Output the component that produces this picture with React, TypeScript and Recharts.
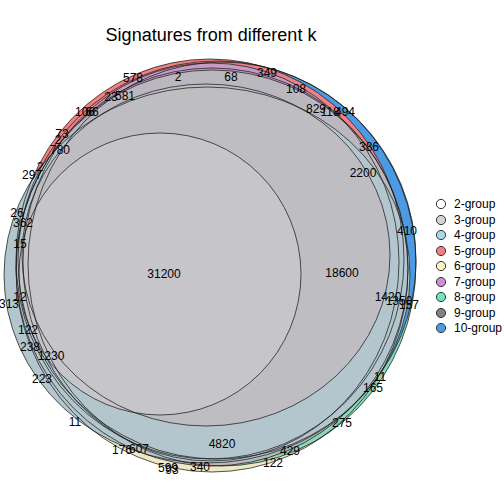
import { ScatterChart, Scatter, XAxis, YAxis } from 'recharts';

const W = 504;
const H = 504;

// sets, in legend order
const groups = ['2-group', '3-group', '4-group', '5-group', '6-group', '7-group', '8-group', '9-group', '10-group'];
const legendColors = ['#ffffff', '#d4d4d4', '#a9d8e6', '#f08080', '#fff6c8', '#cc8fd2', '#6fe6c0', '#808080', '#4a9be6'];

// fitted ellipses (chart units)
const centerX = [160, 206, 207, 210, 212, 211, 222, 212, 217];
const centerY = [274, 255, 275, 259, 270, 262, 264, 268, 260];
const radiusX = [141, 184, 203, 194, 196, 188, 194, 196, 199];
const radiusY = [141, 171, 188, 200, 202, 199, 202, 198, 199];

// colour of the region each shape shows when painted in drawOrder
const regionFill: Record<string, string> = {
  '6-group': '#eee8c4',
  '8-group': '#86d8b8',
  '10-group': '#4c9ae3',
  '5-group': '#ee8282',
  '7-group': '#c69bc5',
  '9-group': '#bab8be',
  '4-group': '#b3c6cd',
  '3-group': '#bebdc2',
  '2-group': '#c6c5c9',
};
const drawOrder = ['6-group', '8-group', '10-group', '5-group', '7-group', '9-group', '4-group', '3-group', '2-group'];

// region counts
const labelText = ['31200', '18600', '4820', '2200', '1420', '1350', '157', '410', '386', '829', '118', '494', '108', '349', '68', '2', '578', '23', '581', '106', '66', '73', '2', '780', '297', '2', '26', '362', '15', '12', '313', '122', '238', '1230', '223', '11', '176', '607', '599', '93', '340', '122', '429', '275', '165', '11'];
const labelX = [164, 342, 222, 363, 388, 399, 409, 407, 369, 316, 330, 345, 296, 267, 231, 178, 133, 111, 125, 85, 92, 62, 58, 60, 32, 40, 17, 23, 20, 20, 9, 28, 30, 51, 42, 75, 122, 139, 168, 172, 200, 273, 290, 342, 373, 380];
const labelY = [274, 273, 444, 173, 297, 301, 305, 231, 147, 109, 112, 112, 89, 73, 77, 77, 78, 97, 96, 112, 112, 134, 140, 150, 175, 167, 213, 223, 244, 297, 304, 330, 347, 356, 379, 422, 450, 449, 468, 470, 467, 463, 451, 423, 388, 377];

const X_DOMAIN: [number, number] = [0, 504];
const Y_DOMAIN: [number, number] = [0, 504];
const unit = W / (X_DOMAIN[1] - X_DOMAIN[0]);

const shapes = groups.map((name, i) => ({
  name,
  x: centerX[i],
  y: centerY[i],
  rx: radiusX[i],
  ry: radiusY[i],
}));
const fills = drawOrder.map((name) => shapes.find((s) => s.name === name)!);
const labels = labelText.map((text, i) => ({ text, x: labelX[i], y: labelY[i] }));

const font = '"Liberation Sans", Arial, Helvetica, sans-serif';

function FillShape(props: any) {
  const { cx, cy, payload } = props;
  return <ellipse cx={cx} cy={cy} rx={payload.rx * unit} ry={payload.ry * unit} fill={regionFill[payload.name]} stroke="none" />;
}

function EdgeShape(props: any) {
  const { cx, cy, payload } = props;
  return <ellipse cx={cx} cy={cy} rx={payload.rx * unit} ry={payload.ry * unit} fill="none" stroke="#1e1e1e" strokeWidth={0.75} />;
}

function LabelShape(props: any) {
  const { cx, cy, payload } = props;
  return (
    <text x={cx} y={cy} textAnchor="middle" dominantBaseline="central" fontSize={12} fontFamily={font} fill="#000">
      {payload.text}
    </text>
  );
}

export default function App() {
  return (
    <div style={{ position: 'absolute', left: 0, top: 0, width: W, height: H, fontFamily: font, background: '#fff' }}>
      <ScatterChart width={W} height={H} margin={{ top: 0, right: 0, bottom: 0, left: 0 }}>
        <XAxis type="number" dataKey="x" domain={X_DOMAIN} hide />
        <YAxis type="number" dataKey="y" domain={Y_DOMAIN} reversed hide />
        <Scatter data={fills} shape={FillShape} isAnimationActive={false} />
        <Scatter data={shapes} shape={EdgeShape} isAnimationActive={false} />
        <Scatter data={labels} shape={LabelShape} isAnimationActive={false} />
      </ScatterChart>
      <div
        style={{
          position: 'absolute',
          left: 0,
          width: 422,
          top: 25,
          lineHeight: '20px',
          fontSize: 18,
          textAlign: 'center',
          color: '#000',
        }}
      >
        Signatures from different k
      </div>
      {groups.map((g, i) => (
        <div
          key={g}
          style={{
            position: 'absolute',
            left: 434,
            top: 204 + i * 15.5 - 8,
            height: 16,
            display: 'flex',
            alignItems: 'center',
            fontSize: 12,
            whiteSpace: 'nowrap',
          }}
        >
          <svg width={14} height={14} style={{ marginRight: 6 }}>
            <circle cx={7} cy={7} r={4.6} fill={legendColors[i]} stroke="#333" strokeWidth={1} />
          </svg>
          <span>{g}</span>
        </div>
      ))}
    </div>
  );
}
